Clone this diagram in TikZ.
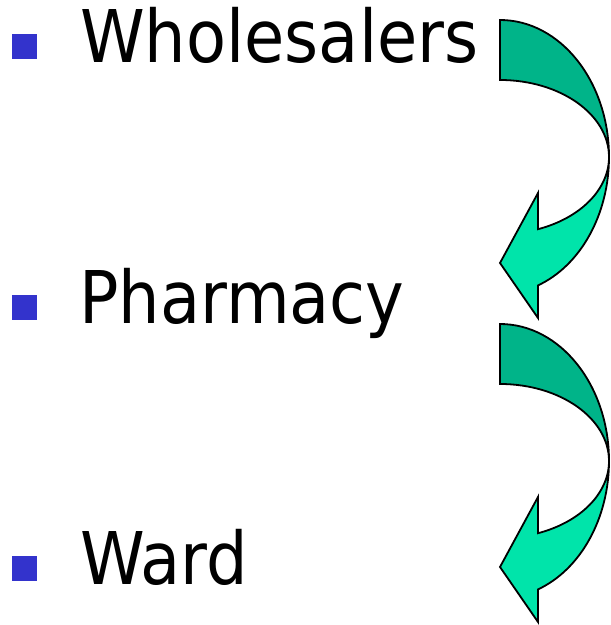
\documentclass[tikz,border=0pt]{standalone}
\usepackage{fontspec}
\setmainfont[FakeStretch=0.9]{DejaVu Sans}
\definecolor{bulletblue}{RGB}{51,51,204}
\definecolor{arrowdark}{RGB}{0,180,137}
\definecolor{arrowlight}{RGB}{0,228,170}
\begin{document}
\begin{tikzpicture}[x=1pt,y=1pt,
  bulletbox/.style={fill=bulletblue,draw=none,minimum size=25.5pt,inner sep=0pt},
  itemtext/.style={anchor=base west,inner sep=0pt,font=\fontsize{72.7}{80}\selectfont},
  arrowpart/.style={draw=black,line width=1.8pt,line join=miter}]
\useasboundingbox (0,0) rectangle (611,625);
% bullets and texts
\node[bulletbox] (b1) at (24.5,578.7) {};
\node[bulletbox] (b2) at (24.5,317.5) {};
\node[bulletbox] (b3) at (24.5,56.6) {};
\node[itemtext] (t1) at (80,562) {Wholesalers};
\node[itemtext] (t2) at (79,301) {Pharmacy};
\node[itemtext] (t3) at (80,40) {Ward};
% curved arrows
\foreach \dy in {0,-304}{
  \begin{scope}[yshift=\dy]
    \filldraw[arrowpart,fill=arrowdark] (500,605)
      arc[start angle=90,end angle=0,x radius=109,y radius=137]
      arc[start angle=0,end angle=90,x radius=109,y radius=77] -- cycle;
    \filldraw[arrowpart,fill=arrowlight] (609,468)
      arc[start angle=0,end angle=-69.6,x radius=109,y radius=137]
      -- (538,307) -- (500,362) -- (538,432) -- (538,395.8)
      arc[start angle=-69.6,end angle=0,x radius=109,y radius=77] -- cycle;
  \end{scope}
}
\end{tikzpicture}
\end{document}
